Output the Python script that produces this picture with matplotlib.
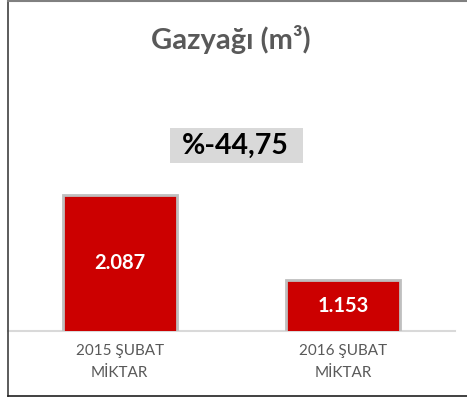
import matplotlib.pyplot as plt
from matplotlib.patches import Rectangle
from matplotlib.lines import Line2D

plt.rcParams['font.family'] = ['Lato', 'DejaVu Sans']

categories = ['2015 ŞUBAT\nMİKTAR', '2016 ŞUBAT\nMİKTAR']
values = [2087, 1153]
value_labels = ['2.087', '1.153']
title = 'Gazyağı (m³)'
change_label = '%-44,75'

W, H = 467, 403
fig = plt.figure(figsize=(W / 100, H / 100), dpi=100)

# plot area in pixels: x 8..455, y 180..331 (from top)
ax = fig.add_axes([8 / W, 1 - 331 / H, 447 / W, 151 / H])
x = list(range(len(values)))
bars = ax.bar(x, values, width=0.51, color='#CC0000', edgecolor='#BFBFBF',
              linewidth=2, zorder=3)
ax.set_xlim(-0.5, 1.5)
ax.set_ylim(600, 2250)

for b, lab in zip(bars, value_labels):
    ax.text(b.get_x() + b.get_width() / 2, (b.get_height() + 600) / 2,
            lab, ha='center', va='center', color='white',
            fontsize=14.5, fontweight='bold', zorder=4)

ax.set_xticks(x)
ax.set_xticklabels(categories, fontsize=11, color='#595959', linespacing=1.8)
ax.tick_params(axis='x', length=0, pad=9)
ax.set_yticks([])
for s in ['top', 'left', 'right']:
    ax.spines[s].set_visible(False)
ax.spines['bottom'].set_color('#D9D9D9')
ax.spines['bottom'].set_linewidth(1.5)

fig.text(231 / W, 1 - 40 / H, title, ha='center', va='center',
         fontsize=21, fontweight='bold', color='#595959')

fig.patches.append(Rectangle((170 / W, 1 - 163 / H), 133 / W, 35 / H,
                             transform=fig.transFigure, facecolor='#D9D9D9',
                             edgecolor='none'))
fig.text(235 / W, 1 - 146 / H, change_label, ha='center', va='center',
         fontsize=20.5, fontweight='bold', color='black')

# outer border
fig.add_artist(Line2D([8 / W, 8 / W], [1 - 396 / H, 1], color='#404040', lw=1.2))
fig.add_artist(Line2D([8 / W, 1], [1 - 396 / H, 1 - 396 / H], color='#202020', lw=1.2))
fig.add_artist(Line2D([8 / W, 1], [1 - 0.5 / H, 1 - 0.5 / H], color='#808080', lw=1.5))

fig.savefig('out.png', dpi=100)
